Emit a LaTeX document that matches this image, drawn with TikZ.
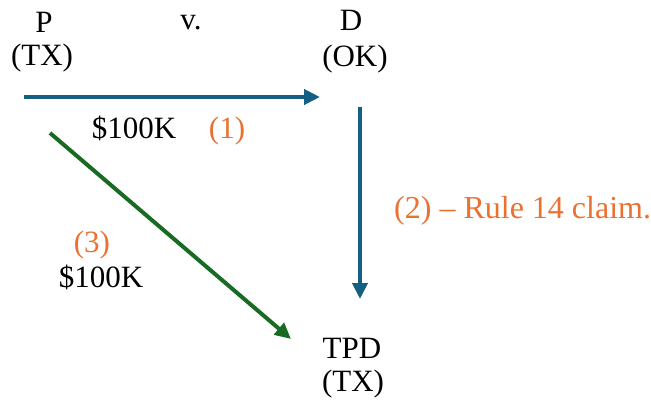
\documentclass[tikz,border=0pt]{standalone}
\usepackage{fontspec}
\setmainfont{Liberation Serif}
\usetikzlibrary{arrows.meta}
\definecolor{cblue}{HTML}{156082}
\definecolor{cgreen}{HTML}{196B24}
\definecolor{corange}{HTML}{E97132}
\tikzset{
  lbl/.style={inner sep=0pt, anchor=base},
  big/.style={lbl, font=\fontsize{31}{37}\selectfont},
  orng/.style={big, text=corange},
  arr/.style={line width=4pt, -{Triangle[length=16pt,width=15pt]}},
}
\begin{document}
\begin{tikzpicture}[x=1pt,y=-1pt]
\useasboundingbox (0,0) rectangle (651,407);
\node[big] (p) at (44,32) {P};
\node[big] (ptx) at (42,65) {(TX)};
\node[big] (v) at (191,29) {v.};
\node[big] (d) at (351,30) {D};
\node[big] (dok) at (355,66) {(OK)};
\node[big] (tpd) at (352,358) {TPD};
\node[big] (ttx) at (353,391) {(TX)};
\node[big] (m1) at (134,138) {\$100K};
\node[orng] (n1) at (227,138) {(1)};
\node[orng, anchor=base west, font=\fontsize{32}{38}\selectfont] (n2) at (394,218) {(2) -- Rule 14 claim.};
\node[orng] (n3) at (92,252) {(3)};
\node[big] (m3) at (101,287) {\$100K};
\coordinate (a1s) at (24,97);
\coordinate (a1e) at (320,97);
\coordinate (a2s) at (360,107);
\coordinate (a2e) at (360,299);
\coordinate (a3s) at (50,133);
\coordinate (a3e) at (291,339);
\draw[arr, cblue] (a1s) -- (a1e);
\draw[arr, cblue] (a2s) -- (a2e);
\draw[arr, cgreen] (a3s) -- (a3e);
\end{tikzpicture}
\end{document}
